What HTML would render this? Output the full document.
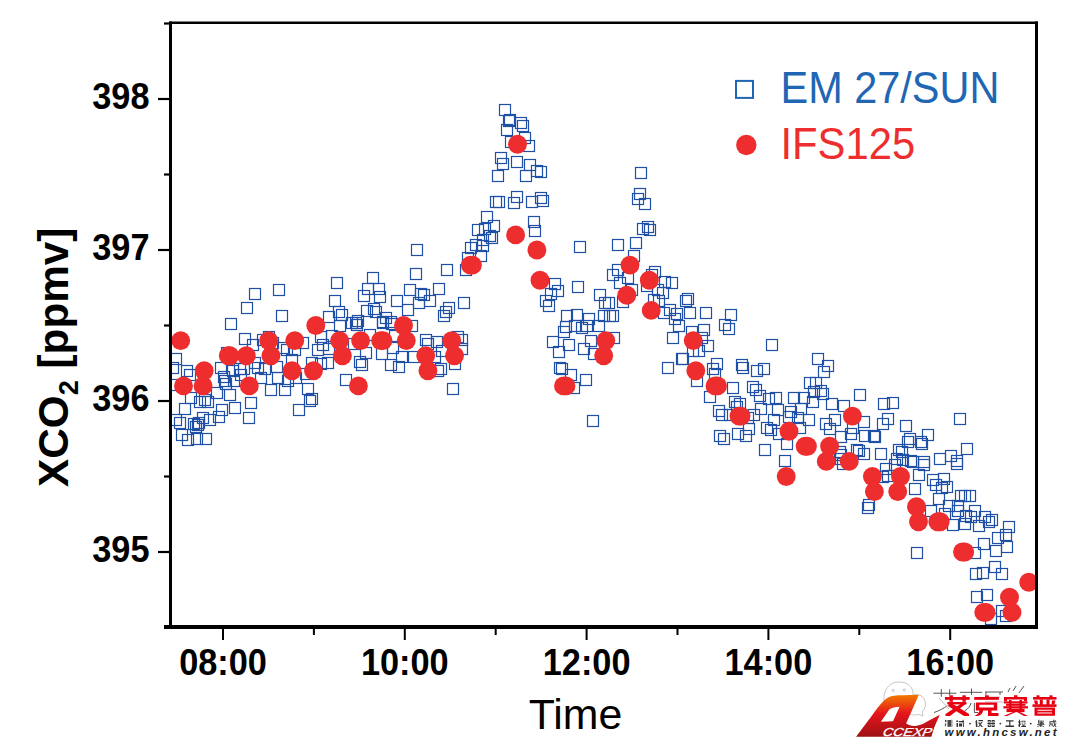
<!DOCTYPE html>
<html><head><meta charset="utf-8"><style>
html,body{margin:0;padding:0;background:#fff;}
body{width:1070px;height:748px;overflow:hidden;position:relative;}
svg{position:absolute;left:0;top:0;}
.tk{font-family:"Liberation Sans",sans-serif;font-weight:bold;font-size:36.5px;fill:#000;}
.lg{font-family:"Liberation Sans",sans-serif;font-size:42px;}
</style></head><body>
<svg width="1070" height="748" viewBox="0 0 1070 748">
<defs><clipPath id="pc"><rect x="171" y="23" width="865" height="603"/></clipPath></defs>
<g clip-path="url(#pc)">
<g fill="none" stroke="#1f50a6" stroke-width="1.2"><rect x="249.5" y="288.5" width="11" height="11"/><rect x="273.5" y="284.5" width="11" height="11"/><rect x="241.5" y="302.5" width="11" height="11"/><rect x="276.5" y="310.5" width="11" height="11"/><rect x="225.5" y="318.5" width="11" height="11"/><rect x="239.5" y="333.5" width="11" height="11"/><rect x="247.5" y="339.5" width="11" height="11"/><rect x="263.5" y="331.5" width="11" height="11"/><rect x="257.5" y="334.5" width="11" height="11"/><rect x="277.5" y="342.5" width="11" height="11"/><rect x="267.5" y="337.5" width="11" height="11"/><rect x="170.5" y="353.5" width="11" height="11"/><rect x="167.5" y="362.5" width="11" height="11"/><rect x="181.5" y="365.5" width="11" height="11"/><rect x="184.5" y="369.5" width="11" height="11"/><rect x="215.5" y="362.5" width="11" height="11"/><rect x="221.5" y="347.5" width="11" height="11"/><rect x="227.5" y="365.5" width="11" height="11"/><rect x="234.5" y="363.5" width="11" height="11"/><rect x="235.5" y="369.5" width="11" height="11"/><rect x="238.5" y="363.5" width="11" height="11"/><rect x="249.5" y="357.5" width="11" height="11"/><rect x="252.5" y="362.5" width="11" height="11"/><rect x="259.5" y="363.5" width="11" height="11"/><rect x="271.5" y="361.5" width="11" height="11"/><rect x="218.5" y="371.5" width="11" height="11"/><rect x="220.5" y="378.5" width="11" height="11"/><rect x="211.5" y="387.5" width="11" height="11"/><rect x="224.5" y="389.5" width="11" height="11"/><rect x="255.5" y="372.5" width="11" height="11"/><rect x="265.5" y="384.5" width="11" height="11"/><rect x="279.5" y="384.5" width="11" height="11"/><rect x="272.5" y="372.5" width="11" height="11"/><rect x="185.5" y="392.5" width="11" height="11"/><rect x="199.5" y="394.5" width="11" height="11"/><rect x="245.5" y="397.5" width="11" height="11"/><rect x="229.5" y="402.5" width="11" height="11"/><rect x="167.5" y="379.5" width="11" height="11"/><rect x="281.5" y="344.5" width="11" height="11"/><rect x="243.5" y="412.5" width="11" height="11"/><rect x="216.5" y="404.5" width="11" height="11"/><rect x="213.5" y="411.5" width="11" height="11"/><rect x="204.5" y="414.5" width="11" height="11"/><rect x="197.5" y="412.5" width="11" height="11"/><rect x="202.5" y="396.5" width="11" height="11"/><rect x="194.5" y="396.5" width="11" height="11"/><rect x="179.5" y="403.5" width="11" height="11"/><rect x="174.5" y="417.5" width="11" height="11"/><rect x="170.5" y="414.5" width="11" height="11"/><rect x="188.5" y="418.5" width="11" height="11"/><rect x="192.5" y="419.5" width="11" height="11"/><rect x="190.5" y="421.5" width="11" height="11"/><rect x="193.5" y="417.5" width="11" height="11"/><rect x="176.5" y="429.5" width="11" height="11"/><rect x="182.5" y="434.5" width="11" height="11"/><rect x="191.5" y="433.5" width="11" height="11"/><rect x="200.5" y="433.5" width="11" height="11"/><rect x="219.5" y="375.5" width="11" height="11"/><rect x="228.5" y="375.5" width="11" height="11"/><rect x="331.5" y="277.5" width="11" height="11"/><rect x="367.5" y="272.5" width="11" height="11"/><rect x="362.5" y="283.5" width="11" height="11"/><rect x="373.5" y="283.5" width="11" height="11"/><rect x="358.5" y="290.5" width="11" height="11"/><rect x="374.5" y="291.5" width="11" height="11"/><rect x="329.5" y="295.5" width="11" height="11"/><rect x="391.5" y="295.5" width="11" height="11"/><rect x="333.5" y="306.5" width="11" height="11"/><rect x="336.5" y="309.5" width="11" height="11"/><rect x="323.5" y="311.5" width="11" height="11"/><rect x="361.5" y="305.5" width="11" height="11"/><rect x="368.5" y="303.5" width="11" height="11"/><rect x="370.5" y="306.5" width="11" height="11"/><rect x="380.5" y="312.5" width="11" height="11"/><rect x="377.5" y="316.5" width="11" height="11"/><rect x="386.5" y="318.5" width="11" height="11"/><rect x="352.5" y="315.5" width="11" height="11"/><rect x="350.5" y="317.5" width="11" height="11"/><rect x="334.5" y="320.5" width="11" height="11"/><rect x="351.5" y="319.5" width="11" height="11"/><rect x="346.5" y="317.5" width="11" height="11"/><rect x="377.5" y="317.5" width="11" height="11"/><rect x="385.5" y="316.5" width="11" height="11"/><rect x="315.5" y="331.5" width="11" height="11"/><rect x="297.5" y="337.5" width="11" height="11"/><rect x="317.5" y="339.5" width="11" height="11"/><rect x="312.5" y="344.5" width="11" height="11"/><rect x="323.5" y="343.5" width="11" height="11"/><rect x="326.5" y="330.5" width="11" height="11"/><rect x="348.5" y="338.5" width="11" height="11"/><rect x="360.5" y="347.5" width="11" height="11"/><rect x="364.5" y="329.5" width="11" height="11"/><rect x="376.5" y="348.5" width="11" height="11"/><rect x="387.5" y="342.5" width="11" height="11"/><rect x="389.5" y="330.5" width="11" height="11"/><rect x="354.5" y="356.5" width="11" height="11"/><rect x="356.5" y="359.5" width="11" height="11"/><rect x="385.5" y="359.5" width="11" height="11"/><rect x="393.5" y="361.5" width="11" height="11"/><rect x="396.5" y="351.5" width="11" height="11"/><rect x="289.5" y="344.5" width="11" height="11"/><rect x="286.5" y="354.5" width="11" height="11"/><rect x="306.5" y="357.5" width="11" height="11"/><rect x="322.5" y="357.5" width="11" height="11"/><rect x="315.5" y="358.5" width="11" height="11"/><rect x="300.5" y="368.5" width="11" height="11"/><rect x="290.5" y="372.5" width="11" height="11"/><rect x="340.5" y="374.5" width="11" height="11"/><rect x="302.5" y="383.5" width="11" height="11"/><rect x="306.5" y="393.5" width="11" height="11"/><rect x="304.5" y="395.5" width="11" height="11"/><rect x="293.5" y="404.5" width="11" height="11"/><rect x="447.5" y="383.5" width="11" height="11"/><rect x="282.5" y="375.5" width="11" height="11"/><rect x="411.5" y="244.5" width="11" height="11"/><rect x="410.5" y="268.5" width="11" height="11"/><rect x="441.5" y="264.5" width="11" height="11"/><rect x="460.5" y="264.5" width="11" height="11"/><rect x="462.5" y="252.5" width="11" height="11"/><rect x="475.5" y="250.5" width="11" height="11"/><rect x="465.5" y="242.5" width="11" height="11"/><rect x="470.5" y="239.5" width="11" height="11"/><rect x="477.5" y="240.5" width="11" height="11"/><rect x="477.5" y="234.5" width="11" height="11"/><rect x="486.5" y="232.5" width="11" height="11"/><rect x="472.5" y="224.5" width="11" height="11"/><rect x="479.5" y="223.5" width="11" height="11"/><rect x="488.5" y="220.5" width="11" height="11"/><rect x="481.5" y="211.5" width="11" height="11"/><rect x="484.5" y="230.5" width="11" height="11"/><rect x="490.5" y="196.5" width="11" height="11"/><rect x="493.5" y="196.5" width="11" height="11"/><rect x="508.5" y="197.5" width="11" height="11"/><rect x="404.5" y="284.5" width="11" height="11"/><rect x="415.5" y="288.5" width="11" height="11"/><rect x="418.5" y="289.5" width="11" height="11"/><rect x="433.5" y="283.5" width="11" height="11"/><rect x="458.5" y="297.5" width="11" height="11"/><rect x="443.5" y="302.5" width="11" height="11"/><rect x="440.5" y="306.5" width="11" height="11"/><rect x="438.5" y="310.5" width="11" height="11"/><rect x="413.5" y="297.5" width="11" height="11"/><rect x="424.5" y="295.5" width="11" height="11"/><rect x="402.5" y="304.5" width="11" height="11"/><rect x="406.5" y="320.5" width="11" height="11"/><rect x="420.5" y="334.5" width="11" height="11"/><rect x="431.5" y="336.5" width="11" height="11"/><rect x="422.5" y="338.5" width="11" height="11"/><rect x="452.5" y="331.5" width="11" height="11"/><rect x="456.5" y="334.5" width="11" height="11"/><rect x="456.5" y="343.5" width="11" height="11"/><rect x="408.5" y="351.5" width="11" height="11"/><rect x="435.5" y="363.5" width="11" height="11"/><rect x="432.5" y="365.5" width="11" height="11"/><rect x="436.5" y="345.5" width="11" height="11"/><rect x="449.5" y="358.5" width="11" height="11"/><rect x="429.5" y="351.5" width="11" height="11"/><rect x="499.5" y="104.5" width="11" height="11"/><rect x="504.5" y="114.5" width="11" height="11"/><rect x="503.5" y="115.5" width="11" height="11"/><rect x="515.5" y="117.5" width="11" height="11"/><rect x="517.5" y="120.5" width="11" height="11"/><rect x="501.5" y="124.5" width="11" height="11"/><rect x="505.5" y="136.5" width="11" height="11"/><rect x="519.5" y="132.5" width="11" height="11"/><rect x="523.5" y="140.5" width="11" height="11"/><rect x="495.5" y="152.5" width="11" height="11"/><rect x="497.5" y="158.5" width="11" height="11"/><rect x="511.5" y="156.5" width="11" height="11"/><rect x="524.5" y="159.5" width="11" height="11"/><rect x="531.5" y="165.5" width="11" height="11"/><rect x="535.5" y="166.5" width="11" height="11"/><rect x="492.5" y="170.5" width="11" height="11"/><rect x="520.5" y="170.5" width="11" height="11"/><rect x="511.5" y="191.5" width="11" height="11"/><rect x="526.5" y="196.5" width="11" height="11"/><rect x="535.5" y="192.5" width="11" height="11"/><rect x="537.5" y="195.5" width="11" height="11"/><rect x="528.5" y="216.5" width="11" height="11"/><rect x="529.5" y="225.5" width="11" height="11"/><rect x="574.5" y="241.5" width="11" height="11"/><rect x="612.5" y="239.5" width="11" height="11"/><rect x="630.5" y="237.5" width="11" height="11"/><rect x="628.5" y="250.5" width="11" height="11"/><rect x="549.5" y="278.5" width="11" height="11"/><rect x="552.5" y="285.5" width="11" height="11"/><rect x="545.5" y="288.5" width="11" height="11"/><rect x="540.5" y="295.5" width="11" height="11"/><rect x="543.5" y="300.5" width="11" height="11"/><rect x="572.5" y="281.5" width="11" height="11"/><rect x="594.5" y="289.5" width="11" height="11"/><rect x="599.5" y="297.5" width="11" height="11"/><rect x="603.5" y="297.5" width="11" height="11"/><rect x="607.5" y="269.5" width="11" height="11"/><rect x="612.5" y="264.5" width="11" height="11"/><rect x="614.5" y="277.5" width="11" height="11"/><rect x="622.5" y="272.5" width="11" height="11"/><rect x="626.5" y="284.5" width="11" height="11"/><rect x="617.5" y="296.5" width="11" height="11"/><rect x="561.5" y="310.5" width="11" height="11"/><rect x="571.5" y="309.5" width="11" height="11"/><rect x="583.5" y="313.5" width="11" height="11"/><rect x="598.5" y="310.5" width="11" height="11"/><rect x="604.5" y="310.5" width="11" height="11"/><rect x="607.5" y="310.5" width="11" height="11"/><rect x="560.5" y="321.5" width="11" height="11"/><rect x="558.5" y="326.5" width="11" height="11"/><rect x="569.5" y="320.5" width="11" height="11"/><rect x="576.5" y="322.5" width="11" height="11"/><rect x="581.5" y="320.5" width="11" height="11"/><rect x="593.5" y="320.5" width="11" height="11"/><rect x="547.5" y="336.5" width="11" height="11"/><rect x="563.5" y="339.5" width="11" height="11"/><rect x="553.5" y="346.5" width="11" height="11"/><rect x="578.5" y="343.5" width="11" height="11"/><rect x="585.5" y="335.5" width="11" height="11"/><rect x="608.5" y="332.5" width="11" height="11"/><rect x="588.5" y="348.5" width="11" height="11"/><rect x="554.5" y="362.5" width="11" height="11"/><rect x="556.5" y="363.5" width="11" height="11"/><rect x="565.5" y="369.5" width="11" height="11"/><rect x="580.5" y="374.5" width="11" height="11"/><rect x="568.5" y="382.5" width="11" height="11"/><rect x="587.5" y="415.5" width="11" height="11"/><rect x="635.5" y="167.5" width="11" height="11"/><rect x="634.5" y="188.5" width="11" height="11"/><rect x="632.5" y="193.5" width="11" height="11"/><rect x="639.5" y="198.5" width="11" height="11"/><rect x="637.5" y="223.5" width="11" height="11"/><rect x="642.5" y="221.5" width="11" height="11"/><rect x="644.5" y="224.5" width="11" height="11"/><rect x="649.5" y="266.5" width="11" height="11"/><rect x="646.5" y="269.5" width="11" height="11"/><rect x="659.5" y="276.5" width="11" height="11"/><rect x="666.5" y="277.5" width="11" height="11"/><rect x="641.5" y="280.5" width="11" height="11"/><rect x="652.5" y="284.5" width="11" height="11"/><rect x="657.5" y="287.5" width="11" height="11"/><rect x="648.5" y="294.5" width="11" height="11"/><rect x="653.5" y="295.5" width="11" height="11"/><rect x="682.5" y="293.5" width="11" height="11"/><rect x="680.5" y="295.5" width="11" height="11"/><rect x="664.5" y="304.5" width="11" height="11"/><rect x="671.5" y="308.5" width="11" height="11"/><rect x="658.5" y="307.5" width="11" height="11"/><rect x="684.5" y="307.5" width="11" height="11"/><rect x="700.5" y="307.5" width="11" height="11"/><rect x="725.5" y="309.5" width="11" height="11"/><rect x="669.5" y="313.5" width="11" height="11"/><rect x="673.5" y="320.5" width="11" height="11"/><rect x="719.5" y="319.5" width="11" height="11"/><rect x="723.5" y="323.5" width="11" height="11"/><rect x="686.5" y="326.5" width="11" height="11"/><rect x="698.5" y="324.5" width="11" height="11"/><rect x="667.5" y="332.5" width="11" height="11"/><rect x="696.5" y="332.5" width="11" height="11"/><rect x="702.5" y="340.5" width="11" height="11"/><rect x="687.5" y="345.5" width="11" height="11"/><rect x="693.5" y="345.5" width="11" height="11"/><rect x="676.5" y="353.5" width="11" height="11"/><rect x="677.5" y="353.5" width="11" height="11"/><rect x="662.5" y="362.5" width="11" height="11"/><rect x="711.5" y="358.5" width="11" height="11"/><rect x="707.5" y="363.5" width="11" height="11"/><rect x="736.5" y="359.5" width="11" height="11"/><rect x="737.5" y="362.5" width="11" height="11"/><rect x="709.5" y="368.5" width="11" height="11"/><rect x="691.5" y="375.5" width="11" height="11"/><rect x="727.5" y="382.5" width="11" height="11"/><rect x="747.5" y="381.5" width="11" height="11"/><rect x="704.5" y="391.5" width="11" height="11"/><rect x="729.5" y="396.5" width="11" height="11"/><rect x="734.5" y="398.5" width="11" height="11"/><rect x="731.5" y="401.5" width="11" height="11"/><rect x="713.5" y="405.5" width="11" height="11"/><rect x="716.5" y="409.5" width="11" height="11"/><rect x="724.5" y="409.5" width="11" height="11"/><rect x="714.5" y="430.5" width="11" height="11"/><rect x="718.5" y="433.5" width="11" height="11"/><rect x="732.5" y="428.5" width="11" height="11"/><rect x="740.5" y="430.5" width="11" height="11"/><rect x="742.5" y="412.5" width="11" height="11"/><rect x="766.5" y="339.5" width="11" height="11"/><rect x="812.5" y="353.5" width="11" height="11"/><rect x="822.5" y="360.5" width="11" height="11"/><rect x="818.5" y="366.5" width="11" height="11"/><rect x="751.5" y="365.5" width="11" height="11"/><rect x="758.5" y="363.5" width="11" height="11"/><rect x="750.5" y="384.5" width="11" height="11"/><rect x="754.5" y="390.5" width="11" height="11"/><rect x="763.5" y="393.5" width="11" height="11"/><rect x="770.5" y="392.5" width="11" height="11"/><rect x="788.5" y="392.5" width="11" height="11"/><rect x="798.5" y="392.5" width="11" height="11"/><rect x="804.5" y="377.5" width="11" height="11"/><rect x="810.5" y="377.5" width="11" height="11"/><rect x="808.5" y="386.5" width="11" height="11"/><rect x="815.5" y="385.5" width="11" height="11"/><rect x="817.5" y="388.5" width="11" height="11"/><rect x="854.5" y="389.5" width="11" height="11"/><rect x="826.5" y="398.5" width="11" height="11"/><rect x="838.5" y="400.5" width="11" height="11"/><rect x="807.5" y="396.5" width="11" height="11"/><rect x="748.5" y="409.5" width="11" height="11"/><rect x="755.5" y="403.5" width="11" height="11"/><rect x="772.5" y="404.5" width="11" height="11"/><rect x="768.5" y="414.5" width="11" height="11"/><rect x="761.5" y="422.5" width="11" height="11"/><rect x="765.5" y="424.5" width="11" height="11"/><rect x="743.5" y="423.5" width="11" height="11"/><rect x="783.5" y="411.5" width="11" height="11"/><rect x="785.5" y="406.5" width="11" height="11"/><rect x="792.5" y="412.5" width="11" height="11"/><rect x="795.5" y="403.5" width="11" height="11"/><rect x="803.5" y="414.5" width="11" height="11"/><rect x="794.5" y="422.5" width="11" height="11"/><rect x="773.5" y="428.5" width="11" height="11"/><rect x="781.5" y="438.5" width="11" height="11"/><rect x="759.5" y="444.5" width="11" height="11"/><rect x="779.5" y="455.5" width="11" height="11"/><rect x="820.5" y="418.5" width="11" height="11"/><rect x="829.5" y="414.5" width="11" height="11"/><rect x="824.5" y="423.5" width="11" height="11"/><rect x="835.5" y="431.5" width="11" height="11"/><rect x="845.5" y="428.5" width="11" height="11"/><rect x="847.5" y="422.5" width="11" height="11"/><rect x="835.5" y="449.5" width="11" height="11"/><rect x="834.5" y="446.5" width="11" height="11"/><rect x="851.5" y="444.5" width="11" height="11"/><rect x="835.5" y="453.5" width="11" height="11"/><rect x="853.5" y="445.5" width="11" height="11"/><rect x="837.5" y="458.5" width="11" height="11"/><rect x="878.5" y="398.5" width="11" height="11"/><rect x="887.5" y="397.5" width="11" height="11"/><rect x="858.5" y="416.5" width="11" height="11"/><rect x="882.5" y="413.5" width="11" height="11"/><rect x="877.5" y="418.5" width="11" height="11"/><rect x="900.5" y="420.5" width="11" height="11"/><rect x="954.5" y="413.5" width="11" height="11"/><rect x="859.5" y="430.5" width="11" height="11"/><rect x="868.5" y="430.5" width="11" height="11"/><rect x="869.5" y="431.5" width="11" height="11"/><rect x="904.5" y="433.5" width="11" height="11"/><rect x="902.5" y="436.5" width="11" height="11"/><rect x="922.5" y="429.5" width="11" height="11"/><rect x="915.5" y="436.5" width="11" height="11"/><rect x="916.5" y="438.5" width="11" height="11"/><rect x="858.5" y="448.5" width="11" height="11"/><rect x="875.5" y="448.5" width="11" height="11"/><rect x="893.5" y="444.5" width="11" height="11"/><rect x="896.5" y="446.5" width="11" height="11"/><rect x="891.5" y="453.5" width="11" height="11"/><rect x="897.5" y="454.5" width="11" height="11"/><rect x="905.5" y="455.5" width="11" height="11"/><rect x="918.5" y="456.5" width="11" height="11"/><rect x="934.5" y="453.5" width="11" height="11"/><rect x="945.5" y="450.5" width="11" height="11"/><rect x="951.5" y="455.5" width="11" height="11"/><rect x="961.5" y="443.5" width="11" height="11"/><rect x="880.5" y="463.5" width="11" height="11"/><rect x="882.5" y="470.5" width="11" height="11"/><rect x="877.5" y="471.5" width="11" height="11"/><rect x="889.5" y="459.5" width="11" height="11"/><rect x="907.5" y="456.5" width="11" height="11"/><rect x="918.5" y="459.5" width="11" height="11"/><rect x="913.5" y="469.5" width="11" height="11"/><rect x="909.5" y="483.5" width="11" height="11"/><rect x="951.5" y="458.5" width="11" height="11"/><rect x="927.5" y="474.5" width="11" height="11"/><rect x="938.5" y="473.5" width="11" height="11"/><rect x="930.5" y="479.5" width="11" height="11"/><rect x="941.5" y="481.5" width="11" height="11"/><rect x="936.5" y="482.5" width="11" height="11"/><rect x="933.5" y="493.5" width="11" height="11"/><rect x="955.5" y="490.5" width="11" height="11"/><rect x="964.5" y="490.5" width="11" height="11"/><rect x="943.5" y="500.5" width="11" height="11"/><rect x="952.5" y="500.5" width="11" height="11"/><rect x="952.5" y="505.5" width="11" height="11"/><rect x="939.5" y="508.5" width="11" height="11"/><rect x="960.5" y="510.5" width="11" height="11"/><rect x="947.5" y="519.5" width="11" height="11"/><rect x="959.5" y="518.5" width="11" height="11"/><rect x="925.5" y="505.5" width="11" height="11"/><rect x="863.5" y="499.5" width="11" height="11"/><rect x="862.5" y="502.5" width="11" height="11"/><rect x="911.5" y="547.5" width="11" height="11"/><rect x="959.5" y="490.5" width="11" height="11"/><rect x="969.5" y="505.5" width="11" height="11"/><rect x="965.5" y="511.5" width="11" height="11"/><rect x="979.5" y="511.5" width="11" height="11"/><rect x="986.5" y="514.5" width="11" height="11"/><rect x="983.5" y="516.5" width="11" height="11"/><rect x="973.5" y="520.5" width="11" height="11"/><rect x="1003.5" y="521.5" width="11" height="11"/><rect x="992.5" y="532.5" width="11" height="11"/><rect x="1000.5" y="529.5" width="11" height="11"/><rect x="978.5" y="538.5" width="11" height="11"/><rect x="969.5" y="547.5" width="11" height="11"/><rect x="990.5" y="545.5" width="11" height="11"/><rect x="1001.5" y="541.5" width="11" height="11"/><rect x="989.5" y="561.5" width="11" height="11"/><rect x="970.5" y="568.5" width="11" height="11"/><rect x="977.5" y="567.5" width="11" height="11"/><rect x="996.5" y="568.5" width="11" height="11"/><rect x="971.5" y="591.5" width="11" height="11"/><rect x="981.5" y="589.5" width="11" height="11"/><rect x="985.5" y="613.5" width="11" height="11"/><rect x="996.5" y="605.5" width="11" height="11"/><rect x="1000.5" y="610.5" width="11" height="11"/></g>
<g fill="#ee2e2e"><circle cx="180.7" cy="340.6" r="9.45"/><circle cx="183.5" cy="385.9" r="9.45"/><circle cx="204.2" cy="370.8" r="9.45"/><circle cx="203.1" cy="385.9" r="9.45"/><circle cx="228.3" cy="355.7" r="9.45"/><circle cx="229.8" cy="355.7" r="9.45"/><circle cx="246.3" cy="355.7" r="9.45"/><circle cx="249.3" cy="385.9" r="9.45"/><circle cx="268.7" cy="340.6" r="9.45"/><circle cx="270.9" cy="355.7" r="9.45"/><circle cx="294.8" cy="340.6" r="9.45"/><circle cx="292.0" cy="370.8" r="9.45"/><circle cx="315.8" cy="325.5" r="9.45"/><circle cx="313.5" cy="370.8" r="9.45"/><circle cx="339.6" cy="340.6" r="9.45"/><circle cx="342.4" cy="355.7" r="9.45"/><circle cx="358.4" cy="385.9" r="9.45"/><circle cx="360.6" cy="340.6" r="9.45"/><circle cx="380.6" cy="340.6" r="9.45"/><circle cx="383.0" cy="340.6" r="9.45"/><circle cx="403.5" cy="325.5" r="9.45"/><circle cx="406.3" cy="340.6" r="9.45"/><circle cx="425.7" cy="355.7" r="9.45"/><circle cx="427.9" cy="370.8" r="9.45"/><circle cx="451.7" cy="340.6" r="9.45"/><circle cx="454.5" cy="355.7" r="9.45"/><circle cx="517.5" cy="144.3" r="9.45"/><circle cx="515.6" cy="234.9" r="9.45"/><circle cx="536.9" cy="250.0" r="9.45"/><circle cx="470.4" cy="265.1" r="9.45"/><circle cx="472.4" cy="265.1" r="9.45"/><circle cx="540.0" cy="280.2" r="9.45"/><circle cx="630.0" cy="265.1" r="9.45"/><circle cx="649.3" cy="280.2" r="9.45"/><circle cx="626.8" cy="295.3" r="9.45"/><circle cx="651.2" cy="310.4" r="9.45"/><circle cx="605.8" cy="340.6" r="9.45"/><circle cx="603.7" cy="355.7" r="9.45"/><circle cx="563.5" cy="385.9" r="9.45"/><circle cx="566.0" cy="385.9" r="9.45"/><circle cx="693.2" cy="340.6" r="9.45"/><circle cx="695.8" cy="370.8" r="9.45"/><circle cx="715.0" cy="385.9" r="9.45"/><circle cx="717.5" cy="385.9" r="9.45"/><circle cx="739.0" cy="416.1" r="9.45"/><circle cx="741.0" cy="416.1" r="9.45"/><circle cx="789.0" cy="431.2" r="9.45"/><circle cx="805.2" cy="446.3" r="9.45"/><circle cx="807.4" cy="446.3" r="9.45"/><circle cx="786.2" cy="476.5" r="9.45"/><circle cx="829.6" cy="446.3" r="9.45"/><circle cx="826.3" cy="461.4" r="9.45"/><circle cx="852.4" cy="416.1" r="9.45"/><circle cx="849.2" cy="461.4" r="9.45"/><circle cx="872.4" cy="476.5" r="9.45"/><circle cx="874.4" cy="491.6" r="9.45"/><circle cx="900.5" cy="476.5" r="9.45"/><circle cx="897.7" cy="491.6" r="9.45"/><circle cx="916.5" cy="506.7" r="9.45"/><circle cx="918.5" cy="521.8" r="9.45"/><circle cx="937.8" cy="521.8" r="9.45"/><circle cx="940.2" cy="521.8" r="9.45"/><circle cx="962.5" cy="552.0" r="9.45"/><circle cx="964.7" cy="552.0" r="9.45"/><circle cx="1028.8" cy="582.2" r="9.45"/><circle cx="1009.5" cy="597.3" r="9.45"/><circle cx="983.8" cy="612.4" r="9.45"/><circle cx="986.0" cy="612.4" r="9.45"/><circle cx="1012.0" cy="612.4" r="9.45"/></g>
</g>
<rect x="169" y="21.5" width="869" height="2.5" fill="#000"/><rect x="169" y="21.5" width="3" height="607.5" fill="#000"/><rect x="1035" y="21.5" width="3" height="607.5" fill="#000"/><rect x="164" y="625" width="874" height="4" fill="#000"/>
<line x1="158" y1="99.0" x2="171" y2="99.0" stroke="#000" stroke-width="2.2"/><line x1="158" y1="250.0" x2="171" y2="250.0" stroke="#000" stroke-width="2.2"/><line x1="158" y1="401.0" x2="171" y2="401.0" stroke="#000" stroke-width="2.2"/><line x1="158" y1="552.0" x2="171" y2="552.0" stroke="#000" stroke-width="2.2"/><line x1="164" y1="23.5" x2="171" y2="23.5" stroke="#000" stroke-width="2.2"/><line x1="164" y1="174.5" x2="171" y2="174.5" stroke="#000" stroke-width="2.2"/><line x1="164" y1="325.5" x2="171" y2="325.5" stroke="#000" stroke-width="2.2"/><line x1="164" y1="476.5" x2="171" y2="476.5" stroke="#000" stroke-width="2.2"/><line x1="164" y1="627.5" x2="171" y2="627.5" stroke="#000" stroke-width="2.2"/><line x1="223.0" y1="627" x2="223.0" y2="640" stroke="#000" stroke-width="2"/><line x1="313.9" y1="627" x2="313.9" y2="635" stroke="#000" stroke-width="2"/><line x1="404.8" y1="627" x2="404.8" y2="640" stroke="#000" stroke-width="2"/><line x1="495.7" y1="627" x2="495.7" y2="635" stroke="#000" stroke-width="2"/><line x1="586.6" y1="627" x2="586.6" y2="640" stroke="#000" stroke-width="2"/><line x1="677.5" y1="627" x2="677.5" y2="635" stroke="#000" stroke-width="2"/><line x1="768.4" y1="627" x2="768.4" y2="640" stroke="#000" stroke-width="2"/><line x1="859.3" y1="627" x2="859.3" y2="635" stroke="#000" stroke-width="2"/><line x1="950.2" y1="627" x2="950.2" y2="640" stroke="#000" stroke-width="2"/>
<text transform="translate(149.5 109.0) scale(0.94 1)" text-anchor="end" class="tk">398</text><text transform="translate(149.5 260.0) scale(0.94 1)" text-anchor="end" class="tk">397</text><text transform="translate(149.5 411.0) scale(0.94 1)" text-anchor="end" class="tk">396</text><text transform="translate(149.5 562.0) scale(0.94 1)" text-anchor="end" class="tk">395</text>
<text transform="translate(223.0 674.5) scale(0.94 1)" text-anchor="middle" class="tk">08:00</text><text transform="translate(404.8 674.5) scale(0.94 1)" text-anchor="middle" class="tk">10:00</text><text transform="translate(586.6 674.5) scale(0.94 1)" text-anchor="middle" class="tk">12:00</text><text transform="translate(768.4 674.5) scale(0.94 1)" text-anchor="middle" class="tk">14:00</text><text transform="translate(950.2 674.5) scale(0.94 1)" text-anchor="middle" class="tk">16:00</text>
<text x="68" y="487" transform="rotate(-90 68 487)" class="tk" style="font-size:42.3px">XCO<tspan dy="10" style="font-size:27px">2</tspan><tspan dy="-10"> [ppmv]</tspan></text>
<text x="575.5" y="729.2" text-anchor="middle" class="lg" style="font-size:42.8px" fill="#000">Time</text>
<rect x="736" y="80.9" width="17" height="17" fill="none" stroke="#2166b3" stroke-width="2"/>
<text transform="translate(780.5 102.8) scale(0.953 1)" class="lg" style="font-size:43.5px" fill="#2166b3">EM 27/SUN</text>
<circle cx="746.3" cy="145" r="10.2" fill="#ee2e2e"/>
<defs>
<linearGradient id="lg1" x1="0" y1="695" x2="0" y2="737" gradientUnits="userSpaceOnUse">
<stop offset="0" stop-color="#f27a00"/>
<stop offset="0.45" stop-color="#e4141c"/>
<stop offset="1" stop-color="#9c1214"/>
</linearGradient>
</defs>
<g fill="none" stroke="#b8b8b8" stroke-width="0.8">
<path d="M886 706 C882 701 883 684 897 682 C910 681 915 690 912.5 698"/>
<circle cx="893.2" cy="690.4" r="1.2"/>
<circle cx="904.3" cy="690" r="1.2"/>
<path d="M908 713 C903 706 908 694 917 694.5 C926 695 928 707 922 712 L923 716 L919 714.5 C914 715.5 910 715 908 713"/>
<path stroke="#444" stroke-width="0.9" d="M933.4 693.2 L956.4 693.2 M941.3 689 L941.3 696.8 M949.7 689.3 L949.7 695.5 M934 712.5 C939 711 944 708 947.4 705.8 M959.8 692.3 L982.2 692.3 M971.5 688.5 L971.5 695 M974.4 703 L974.4 712.5 L978 712.5 M964.5 711 C968 709 970.5 706 971 703 M985 692 L1003 692 M986 692 L986 695 M1000 692 L1000 695 M1008 692 L1010 688 M1013 691 L1016 686 M1019 693 L1024 686"/>
<path stroke="#aaa" stroke-width="0.8" d="M939 698 L949.1 709.2 M988 697 L1000 697 M985 702 L1005 702"/>
</g>
<path fill="url(#lg1)" d="M856.1 736.7 C862 729 868 721 872 715.5 C876 709.5 880 704.5 884 700.5 C887 697.8 890 696.3 894 695.7 C901 695.2 910 695 918.8 695.1 L906.1 723.6 C909 725.5 912 726.3 915.5 726 C920 725.4 923.5 723.8 926.7 721.8 L939.8 714.8 L934.2 727.4 L931.4 736.7 Z M880.9 721.8 L889.3 709.6 C892 707.5 895 706.9 899.6 706.8 L893 721.3 Z" fill-rule="evenodd"/>
<text transform="translate(881.5 736.3) skewX(-24)" font-family="Liberation Sans, sans-serif" font-size="11.5" fill="#fff" stroke="#fff" stroke-width="0.25" textLength="49" lengthAdjust="spacingAndGlyphs">CCEXP</text>
<g fill="#e60012">
<!-- 艾 -->
<rect x="945" y="697" width="24.7" height="2.8"/>
<rect x="949.5" y="695.3" width="3.4" height="6.5"/>
<rect x="962.4" y="695.3" width="3.4" height="6.5"/>
<rect x="947.3" y="702" width="19" height="2.4"/>
<path d="M949 704 L953 704 L969 714 L969 716 L964 716 L948 706 Z"/>
<path d="M962 703 L967 703 L950 716 L945.5 716 L945.5 714 Z"/>
<!-- 克 -->
<rect x="974.2" y="697" width="24.7" height="2.8"/>
<rect x="985" y="695.3" width="3.8" height="4"/>
<path d="M975.9 702.4 L997.2 702.4 L997.2 710.5 L975.9 710.5 Z M979.3 704.8 L979.3 707.6 L993.8 707.6 L993.8 704.8 Z" fill-rule="evenodd"/>
<path d="M979.5 710 L983.2 710 C983 713 981 715.5 977.5 716 L974.5 716 C977.5 714.5 979.2 712.5 979.5 710 Z"/>
<path d="M988 710 L991.5 710 L991.5 713 L998.5 713 L998.5 716 L988 716 Z"/>
<!-- 赛 -->
<path d="M1014 695.3 L1017.5 695.3 L1017.5 697 L1027 697 L1027 701 L1024 701 L1024 699.5 L1007 699.5 L1007 701 L1004 701 L1004 697 L1014 697 Z"/>
<rect x="1004" y="701.3" width="23.5" height="2.2"/>
<rect x="1006" y="703.8" width="19.5" height="2"/>
<rect x="1003.4" y="706.2" width="24.6" height="2.2"/>
<rect x="1006.5" y="708.7" width="18" height="3.4"/>
<path d="M1013 712 L1016 712 L1007 716 L1003.5 716 Z M1017 712 L1020 712 L1028 716 L1024 716 Z"/>
<rect x="1009" y="700" width="2.5" height="9"/>
<rect x="1019.5" y="700" width="2.5" height="9"/>
<!-- 普 -->
<rect x="1033" y="697" width="23.5" height="2.6"/>
<rect x="1036.5" y="695.3" width="3" height="2"/>
<rect x="1049.5" y="695.3" width="3" height="2"/>
<rect x="1039.8" y="699.5" width="3" height="5.5"/>
<rect x="1046.5" y="699.5" width="3" height="5.5"/>
<path d="M1034 700.5 L1037.5 700.5 L1038 704.5 L1035 704.5 Z M1052 700.5 L1055.5 700.5 L1054.5 704.5 L1051.5 704.5 Z"/>
<rect x="1032.5" y="704.3" width="24" height="2.6"/>
<path d="M1034.5 707.5 L1055 707.5 L1055 715.8 L1034.5 715.8 Z M1037.5 709.8 L1037.5 710.8 L1052 710.8 L1052 709.8 Z M1037.5 712.6 L1037.5 713.6 L1052 713.6 L1052 712.6 Z" fill-rule="evenodd"/>
</g>
<g fill="#333">
<path d="M945 720 L946.5 720 L946.5 722 L945 722 Z M945 723.5 L946.5 723.5 L945.5 726.5 L944.8 726.5 Z M947.5 720 L951 720 L951 726.8 L947.5 726.8 Z M951.5 719.8 L952.3 719.8 L952.3 727 L951.5 727 Z" opacity="0.9"/>
<path d="M956.3 720.5 L958 720.5 L958 722 L956.3 722 Z M956.5 723 L958 723 L958 727 L956.5 727 Z M958.8 721 L964 721 L964 722.2 L958.8 722.2 Z M959 723.5 L962 723.5 L962 726.5 L959 726.5 Z M962.5 719.8 L963.5 719.8 L964 727 L963 727 Z"/>
<circle cx="970" cy="723.6" r="0.9"/>
<path d="M975.5 721 L977 719.8 L977.5 727 L976 727 Z M978.5 720 L983 720 L983 721.3 L978.5 721.3 Z M979 722 L983 727 L981.5 727 L978.2 723 Z M982.5 722 L979 727 L978 727 L981.2 722 Z"/>
<path d="M987.7 720 L990.8 720 L990.8 722.6 L987.7 722.6 Z M988.6 720.9 L988.6 721.7 L989.9 721.7 L989.9 720.9 Z M991.6 720 L994.7 720 L994.7 722.6 L991.6 722.6 Z M992.5 720.9 L992.5 721.7 L993.8 721.7 L993.8 720.9 Z M987.5 723 L995 723 L995 724 L987.5 724 Z M987.7 724.4 L990.8 724.4 L990.8 727 L987.7 727 Z M988.6 725.3 L988.6 726.1 L989.9 726.1 L989.9 725.3 Z M991.6 724.4 L994.7 724.4 L994.7 727 L991.6 727 Z M992.5 725.3 L992.5 726.1 L993.8 726.1 L993.8 725.3 Z" fill-rule="evenodd"/>
<circle cx="1000.3" cy="723.6" r="0.9"/>
<path d="M1006 720.2 L1013.5 720.2 L1013.5 721.4 L1006 721.4 Z M1009.2 721.4 L1010.4 721.4 L1010.4 725.6 L1009.2 725.6 Z M1005.5 725.6 L1014 725.6 L1014 726.9 L1005.5 726.9 Z"/>
<path d="M1018 721.5 L1020.8 721.5 L1020.8 722.5 L1018 722.5 Z M1019 719.8 L1020 719.8 L1020 727 L1018.5 727 L1019 726 Z M1018 724.5 L1021 723.5 L1021 724.5 L1018 725.5 Z M1021.5 720.8 L1025.5 720.8 L1025.5 722.3 L1024.6 722.3 L1024.6 721.6 L1022.4 721.6 L1022.4 722.3 L1021.5 722.3 Z M1022.8 722.5 L1023.6 722.5 L1022 724 L1021.4 724 Z M1023.6 722.5 L1024.4 722.5 L1026 724 L1025.2 724 Z M1021.8 724.5 L1025.4 724.5 L1025.4 725.4 L1021.8 725.4 Z M1023.2 725.4 L1024 725.4 L1024 726.1 L1023.2 726.1 Z M1021.3 726.1 L1026 726.1 L1026 727 L1021.3 727 Z"/>
<circle cx="1030.8" cy="723.6" r="0.9"/>
<path d="M1038.5 719.8 L1039.5 719.8 L1038.8 722 L1038 722 Z M1038.2 721 L1039.2 721 L1039.2 723.8 L1038.2 723.8 Z M1039.5 720.8 L1044 720.8 L1044 721.6 L1039.5 721.6 Z M1039.5 722 L1043.5 722 L1043.5 722.7 L1039.5 722.7 Z M1039.5 723 L1044 723 L1044 723.8 L1039.5 723.8 Z M1040.8 720.5 L1041.6 720.5 L1041.6 723.8 L1040.8 723.8 Z M1037 724.2 L1044.5 724.2 L1044.5 725 L1037 725 Z M1040.3 723.8 L1041.3 723.8 L1041.3 727 L1040.3 727 Z M1040 725 L1040.6 725.6 L1037.5 727 L1037 726.5 Z M1041 725 L1044.3 726.5 L1043.8 727 L1040.6 725.6 Z"/>
<path d="M1049.5 721.3 L1056.3 721.3 L1056.3 722.2 L1049.5 722.2 Z M1049.5 722.2 L1050.5 722.2 L1050.3 725.5 L1049 727 L1048.8 726.2 L1049.5 725 Z M1050.5 723.5 L1052.8 723.5 L1052.6 726.3 L1051.5 726.3 L1051.8 724.4 L1050.5 724.4 Z M1053.2 719.8 L1054.2 719.8 C1054.3 723 1055 725.5 1056.5 726.8 L1055.8 727.2 C1054 725.8 1053.3 723 1053.2 719.8 Z M1055.8 723.2 L1056.6 723.6 L1053.5 727 L1052.8 726.5 Z M1055 719.8 L1055.8 720.3 L1055.3 721 L1054.6 720.6 Z"/>
</g>
<text x="944.5" y="736.3" font-family="Liberation Sans, sans-serif" font-weight="bold" font-style="italic" font-size="11.5" fill="#222" textLength="112" lengthAdjust="spacing">www.hncsw.net</text>

<text transform="translate(780.5 158.8) scale(0.96 1)" class="lg" style="font-size:43.5px" fill="#ee2e2e">IFS125</text>
</svg>
</body></html>
